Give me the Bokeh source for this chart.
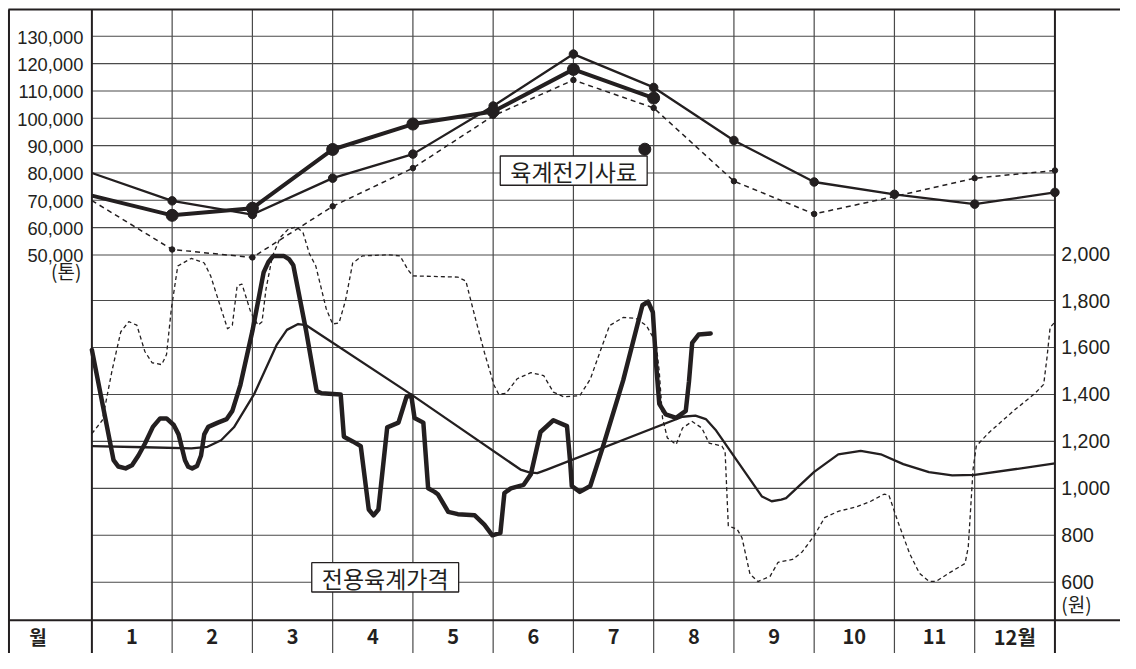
from bokeh.plotting import figure
from bokeh.models import Range1d
from bokeh.core.properties import value
from bokeh.embed import file_html
from bokeh.resources import INLINE

# ---------------- data ----------------
month_labels = ["1", "2", "3", "4", "5", "6", "7", "8", "9", "10", "11", "12월"]
ton_ticks = [50000, 60000, 70000, 80000, 90000, 100000, 110000, 120000, 130000]
ton_tick_labels = ["50,000", "60,000", "70,000", "80,000", "90,000", "100,000", "110,000", "120,000", "130,000"]
price_ticks = [600, 800, 1000, 1200, 1400, 1600, 1800, 2000]
price_tick_labels = ["600", "800", "1,000", "1,200", "1,400", "1,600", "1,800", "2,000"]

# 육계전기사료 (tons), month-boundary points 0..12
feed_x = [0, 1, 2, 3, 4, 5, 6, 7, 8, 9, 10, 11, 12]
feed_2007 = [69900, 52000, 49100, 67800, 81800, 100900, 114000, 103800, 77000, 65000, 71400, 78100, 80900]
feed_2008 = [80000, 69800, 64800, 78100, 86900, 104500, 123500, 111300, 91900, 76700, 72200, 68600, 72900]
feed_2009_x = [0, 1, 2, 3, 4, 5, 6, 7]
feed_2009 = [71700, 64500, 67100, 88600, 97900, 102500, 117900, 107400]
stray_dot_x = [6.89]
stray_dot_y = [88700]

# 전용육계가격 (원)
price_2009_x = [0.00, 0.27, 0.33, 0.42, 0.50, 0.58, 0.66, 0.76, 0.85, 0.93, 1.02, 1.08, 1.16, 1.20, 1.25,
                1.31, 1.36, 1.40, 1.45, 1.57, 1.68, 1.75, 1.85, 2.00, 2.14, 2.20, 2.26, 2.39, 2.46, 2.51,
                2.67, 2.80, 2.86, 3.10, 3.14, 3.25, 3.35, 3.45, 3.51, 3.57, 3.68, 3.82, 3.92, 3.98, 4.02,
                4.13, 4.19, 4.27, 4.31, 4.44, 4.56, 4.77, 4.89, 4.99, 5.09, 5.14, 5.22, 5.38, 5.47, 5.59,
                5.75, 5.92, 5.96, 5.98, 6.08, 6.21, 6.37, 6.62, 6.86, 6.93, 6.99, 7.03, 7.07, 7.15, 7.28,
                7.40, 7.44, 7.48, 7.56, 7.71]
price_2009 = [1590, 1120, 1093, 1085, 1098, 1140, 1190, 1262, 1298, 1298, 1270, 1230, 1120, 1092, 1085,
              1095, 1140, 1230, 1262, 1280, 1295, 1330, 1440, 1670, 1920, 1965, 1990, 1990, 1975, 1950,
              1670, 1415, 1405, 1400, 1220, 1200, 1180, 910, 885, 910, 1260, 1280, 1390, 1395, 1300,
              1280, 1000, 985, 975, 900, 890, 885, 845, 800, 810, 980, 1000, 1015, 1060, 1240,
              1290, 1265, 1110, 1010, 985, 1010, 1180, 1460, 1780, 1795, 1750, 1530, 1360, 1315, 1300,
              1330, 1455, 1620, 1655, 1660]

price_2008_x = [0.00, 0.66, 1.24, 1.44, 1.61, 1.77, 2.02, 2.30, 2.43, 2.57, 2.67, 4.00, 5.34, 5.45, 5.55,
                5.67, 7.36, 7.52, 7.65, 7.77, 8.35, 8.47, 8.59, 8.65, 9.00, 9.30, 9.58, 9.83, 10.11, 10.43,
                10.72, 11.00, 12.00]
price_2008 = [1180, 1175, 1170, 1177, 1205, 1260, 1400, 1610, 1675, 1700, 1695, 1395, 1080, 1068, 1065,
              1080, 1305, 1310, 1295, 1250, 965, 945, 952, 958, 1070, 1145, 1160, 1145, 1103, 1069,
              1055, 1057, 1106]

price_2007_x = [0.00, 0.13, 0.25, 0.36, 0.46, 0.56, 0.66, 0.75, 0.87, 0.93, 0.99, 1.07, 1.24, 1.40, 1.48,
                1.61, 1.69, 1.75, 1.81, 1.87, 1.98, 2.07, 2.12, 2.17, 2.25, 2.35, 2.45, 2.55, 2.63, 2.71,
                2.79, 2.92, 3.00, 3.08, 3.16, 3.25, 3.37, 3.70, 3.84, 3.94, 4.00, 4.56, 4.66, 4.77, 4.89,
                5.01, 5.07, 5.16, 5.30, 5.47, 5.63, 5.75, 5.88, 6.08, 6.21, 6.33, 6.45, 6.62, 6.78, 6.91,
                7.03, 7.07, 7.11, 7.17, 7.28, 7.36, 7.48, 7.60, 7.69, 7.85, 7.89, 7.93, 8.04, 8.10, 8.20,
                8.30, 8.45, 8.55, 8.73, 8.85, 9.00, 9.13, 9.30, 9.54, 9.70, 9.87, 9.93, 10.04, 10.19, 10.31,
                10.43, 10.52, 10.68, 10.88, 10.92, 10.98, 11.02, 11.17, 11.49, 11.74, 11.86, 11.90, 11.94, 12.00]
price_2007 = [1233, 1290, 1500, 1667, 1710, 1695, 1583, 1535, 1527, 1570, 1765, 1947, 1980, 1960, 1905,
              1765, 1680, 1695, 1863, 1870, 1750, 1695, 1710, 1850, 1990, 2070, 2105, 2113, 2090, 2000,
              1947, 1765, 1700, 1705, 1800, 1960, 1990, 1995, 1990, 1930, 1905, 1900, 1883, 1735, 1580,
              1440, 1400, 1405, 1467, 1493, 1480, 1410, 1390, 1395, 1465, 1580, 1693, 1728, 1724, 1693,
              1620, 1495, 1300, 1215, 1187, 1257, 1285, 1257, 1193, 1180, 1158, 840, 826, 790, 635,
              603, 625, 685, 697, 729, 798, 875, 902, 923, 944, 975, 972, 861, 722, 639,
              604, 604, 639, 680, 750, 1082, 1180, 1235, 1332, 1401, 1443, 1554, 1685, 1709]

# ---------------- layout helpers (reference pixels -> data) ----------------
W, H = 1120, 653
REF_W, REF_H = 1136, 669
SX, SY = W / REF_W, H / REF_H
X0, XW = 92.7, 81.4
def dx(px):
    return (px - X0) / XW
def dp(py):
    return 2000 - (py - 259.3) * (200 / 48.1)
def dt(py):
    return 130000 - (py - 36.7) * (10000 / 28)

INK = "#231f20"
GRID = "#4a4a4a"
NUM_FONT = value("Liberation Sans")
KR_FONT = value("Noto Sans CJK KR")

p = figure(width=W, height=H, output_backend="svg", toolbar_location=None,
           x_range=Range1d(dx(0), dx(REF_W)), y_range=Range1d(dp(REF_H), dp(0)),
           x_axis_location=None, y_axis_location=None, min_border=0,
           outline_line_color=None, background_fill_color="white", border_fill_color="white")
p.grid.visible = False
p.extra_y_ranges = {"ton": Range1d(dt(REF_H), dt(0))}

top_y = dp(9.3)
bottom_y = dp(REF_H)
sep_y = dp(635)

# horizontal grid lines
p.segment(x0=[0] * len(ton_ticks), x1=[12] * len(ton_ticks), y0=ton_ticks, y1=ton_ticks,
          y_range_name="ton", line_color=GRID, line_width=1.1)
pg = [t for t in price_ticks if t < 2000]
p.segment(x0=[0] * len(pg), x1=[12] * len(pg), y0=pg, y1=pg, line_color=GRID, line_width=1.1)
# vertical grid lines
vx = list(range(1, 12))
p.segment(x0=vx, x1=vx, y0=[bottom_y] * len(vx), y1=[top_y] * len(vx), line_color=GRID, line_width=1.2)
# frame lines
p.segment(x0=[dx(8), dx(8)], x1=[dx(REF_W), dx(REF_W)], y0=[top_y, sep_y], y1=[top_y, sep_y],
          line_color=INK, line_width=2)
p.segment(x0=[dx(8.6), 0, 12], x1=[dx(8.6), 0, 12], y0=[bottom_y] * 3, y1=[top_y] * 3,
          line_color=INK, line_width=2)

# ---------------- price lines ----------------
p.line(price_2007_x, price_2007, line_color=INK, line_width=1.3, line_dash="4 3", line_join="round")
p.line(price_2008_x, price_2008, line_color=INK, line_width=2.3, line_join="round")
p.line(price_2009_x, price_2009, line_color=INK, line_width=4.5, line_join="round", line_cap="round")

# ---------------- feed lines ----------------
p.line(feed_x, feed_2007, y_range_name="ton", line_color=INK, line_width=1.5, line_dash="5 4")
m07 = [i for i in range(1, 13) if i != 10]
p.scatter([feed_x[i] for i in m07], [feed_2007[i] for i in m07], y_range_name="ton",
          size=5.5, color=INK)
p.line(feed_x, feed_2008, y_range_name="ton", line_color=INK, line_width=2.3)
p.scatter(feed_x[1:], feed_2008[1:], y_range_name="ton", size=8.5, color=INK)
p.line(feed_2009_x, feed_2009, y_range_name="ton", line_color=INK, line_width=4, line_join="round")
p.scatter(feed_2009_x[1:], feed_2009[1:], y_range_name="ton", size=12, color=INK)
p.scatter(stray_dot_x, stray_dot_y, y_range_name="ton", size=12, color=INK)

# ---------------- series name boxes ----------------
p.rect(x=[dx(581.4), dx(390.2)], y=[dp(174.3), dp(591)], width=149 * SX, height=30 * SY,
       width_units="screen", height_units="screen", fill_color="white", line_color=INK, line_width=1.3)
p.text(x=[dx(581.4), dx(390.2)], y=[dp(175), dp(591.7)], text=["육계전기사료", "전용육계가격"],
       text_font=KR_FONT, text_font_size="23px", text_align="center", text_baseline="middle",
       text_color=INK)

# ---------------- tick labels ----------------
p.text(x=[dx(84)] * len(ton_ticks), y=ton_ticks, text=ton_tick_labels, y_range_name="ton",
       text_font=NUM_FONT, text_font_size="18.3px", text_align="right", text_baseline="middle",
       text_color=INK, y_offset=1)
p.text(x=[dx(82)], y=[dp(277)], text=["(톤)"], text_font=KR_FONT, text_font_size="19px",
       text_align="right", text_baseline="middle", text_color=INK)
p.text(x=[dx(1076)] * len(price_ticks), y=price_ticks, text=price_tick_labels,
       text_font=NUM_FONT, text_font_size="19.5px", text_align="left", text_baseline="middle",
       text_color=INK)
p.text(x=[dx(1076)], y=[dp(618)], text=["(원)"], text_font=KR_FONT, text_font_size="19px",
       text_align="left", text_baseline="middle", text_color=INK)

# month row
mx = [i + 0.5 for i in range(12)]
p.text(x=mx, y=[dp(652)] * 12, text=month_labels, text_font=KR_FONT,
       text_font_size="20px", text_font_style="bold", text_align="center", text_baseline="middle",
       text_color=INK)
p.text(x=[dx(38)], y=[dp(652)], text=["월"], text_font=KR_FONT, text_font_size="19px",
       text_font_style="bold", text_align="center", text_baseline="middle", text_color=INK)

open("out.html", "w").write(file_html(p, INLINE))
